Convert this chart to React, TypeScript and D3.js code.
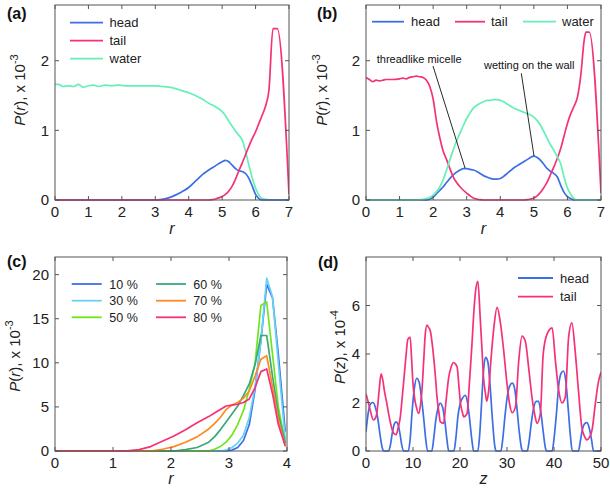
import React from "react";
import * as d3 from "d3";

// ---------- Panel (a) ----------
const rWaterA = [0, 0.1, 0.25, 0.4, 0.55, 0.7, 0.85, 1.0, 1.15, 1.3, 1.5, 1.7, 1.9, 2.1, 2.4, 2.7, 3.0, 3.2, 3.4, 3.6, 3.8, 4.0, 4.2, 4.4, 4.6, 4.8, 5.0, 5.1, 5.2, 5.3, 5.4, 5.5, 5.6, 5.7, 5.8, 5.9, 6.0, 6.1, 6.2, 6.3, 6.5, 7.0];
const waterA = [1.66, 1.66, 1.63, 1.64, 1.63, 1.66, 1.62, 1.64, 1.65, 1.63, 1.65, 1.64, 1.65, 1.64, 1.64, 1.64, 1.64, 1.63, 1.62, 1.60, 1.57, 1.54, 1.50, 1.45, 1.39, 1.34, 1.27, 1.21, 1.13, 1.06, 0.99, 0.93, 0.86, 0.70, 0.50, 0.32, 0.17, 0.07, 0.02, 0.01, 0, 0];
const rHeadA = [0, 3.0, 3.2, 3.4, 3.6, 3.8, 4.0, 4.2, 4.4, 4.6, 4.8, 5.0, 5.1, 5.2, 5.3, 5.4, 5.5, 5.6, 5.7, 5.8, 5.9, 6.0, 6.1, 6.2, 7.0];
const headA = [0, 0, 0.01, 0.03, 0.07, 0.12, 0.18, 0.27, 0.36, 0.43, 0.49, 0.55, 0.57, 0.55, 0.50, 0.45, 0.42, 0.41, 0.38, 0.31, 0.20, 0.08, 0.02, 0, 0];
const rTailA = [0, 4.6, 4.7, 4.8, 4.9, 5.0, 5.1, 5.2, 5.3, 5.4, 5.5, 5.6, 5.7, 5.8, 5.9, 6.0, 6.1, 6.2, 6.3, 6.4, 6.52, 6.65, 7.0];
const tailA = [0, 0, 0.005, 0.015, 0.03, 0.05, 0.08, 0.13, 0.2, 0.3, 0.42, 0.53, 0.65, 0.77, 0.88, 0.98, 1.1, 1.22, 1.35, 1.58, 2.46, 2.46, 0.08];

// ---------- Panel (b) ----------
const rTailB = [0, 0.1, 0.2, 0.3, 0.4, 0.5, 0.6, 0.8, 1.0, 1.1, 1.2, 1.3, 1.4, 1.5, 1.6, 1.7, 1.8, 1.9, 2.0, 2.1, 2.2, 2.3, 2.4, 2.5, 2.6, 2.7, 2.8, 2.9, 3.0, 3.1, 3.2, 3.3, 3.4, 3.5, 4.7, 4.8, 4.9, 5.0, 5.1, 5.2, 5.3, 5.4, 5.5, 5.6, 5.7, 5.8, 5.9, 6.0, 6.1, 6.2, 6.3, 6.4, 6.5, 6.55, 6.65, 7.0];
const tailB = [1.76, 1.73, 1.70, 1.72, 1.71, 1.72, 1.73, 1.73, 1.74, 1.75, 1.74, 1.76, 1.77, 1.78, 1.77, 1.76, 1.72, 1.63, 1.45, 1.13, 0.89, 0.70, 0.58, 0.45, 0.33, 0.25, 0.19, 0.14, 0.10, 0.06, 0.03, 0.015, 0.005, 0, 0, 0.005, 0.015, 0.03, 0.06, 0.11, 0.18, 0.26, 0.37, 0.48, 0.6, 0.74, 0.92, 1.1, 1.24, 1.35, 1.48, 1.8, 2.3, 2.41, 2.41, 0.1];
const rHeadB = [0, 1.8, 1.9, 2.0, 2.1, 2.2, 2.3, 2.4, 2.5, 2.6, 2.7, 2.8, 2.9, 3.0, 3.1, 3.2, 3.3, 3.4, 3.5, 3.6, 3.7, 3.8, 3.9, 4.0, 4.1, 4.2, 4.3, 4.4, 4.5, 4.6, 4.7, 4.8, 4.9, 5.0, 5.1, 5.2, 5.3, 5.4, 5.5, 5.6, 5.7, 5.8, 5.9, 6.0, 6.1, 6.2, 7.0];
const headB = [0, 0, 0.01, 0.04, 0.09, 0.14, 0.19, 0.25, 0.31, 0.36, 0.40, 0.43, 0.45, 0.45, 0.44, 0.43, 0.41, 0.38, 0.35, 0.33, 0.31, 0.30, 0.30, 0.31, 0.34, 0.38, 0.42, 0.46, 0.49, 0.52, 0.55, 0.58, 0.61, 0.63, 0.61, 0.57, 0.51, 0.45, 0.41, 0.38, 0.33, 0.21, 0.11, 0.05, 0.02, 0, 0];
const rWaterB = [0, 1.5, 1.6, 1.7, 1.8, 1.9, 2.0, 2.1, 2.2, 2.3, 2.4, 2.5, 2.6, 2.7, 2.8, 2.9, 3.0, 3.1, 3.2, 3.3, 3.4, 3.5, 3.6, 3.7, 3.8, 3.9, 4.0, 4.1, 4.2, 4.3, 4.4, 4.5, 4.6, 4.7, 4.8, 4.9, 5.0, 5.1, 5.2, 5.3, 5.4, 5.5, 5.6, 5.7, 5.8, 5.9, 6.0, 6.1, 6.2, 6.3, 7.0];
const waterB = [0, 0, 0.005, 0.01, 0.02, 0.04, 0.07, 0.12, 0.19, 0.29, 0.43, 0.58, 0.72, 0.85, 0.96, 1.07, 1.17, 1.25, 1.32, 1.36, 1.39, 1.41, 1.43, 1.43, 1.44, 1.44, 1.43, 1.41, 1.38, 1.35, 1.32, 1.30, 1.28, 1.26, 1.24, 1.22, 1.19, 1.14, 1.07, 0.98, 0.88, 0.79, 0.71, 0.62, 0.52, 0.33, 0.17, 0.08, 0.02, 0, 0];

// ---------- Panel (c) ----------
const rC = [0, 1.05, 1.25, 1.45, 1.65, 1.85, 2.05, 2.25, 2.45, 2.65, 2.75, 2.85, 2.95, 3.05, 3.15, 3.25, 3.35, 3.45, 3.55, 3.65, 3.75, 3.85, 3.97];
const c10 = [0, 0, 0, 0, 0, 0, 0, 0, 0, 0, 0, 0, 0, 0.1, 0.4, 1.2, 3.0, 7.0, 12.5, 18.9, 17.4, 11, 2.2];
const c30 = [0, 0, 0, 0, 0, 0, 0, 0, 0, 0, 0, 0, 0.1, 0.4, 0.9, 1.8, 3.8, 7.3, 12.5, 19.6, 17.5, 10, 1.3];
const c50 = [0, 0, 0, 0, 0, 0, 0, 0, 0, 0, 0.2, 0.5, 1.0, 1.8, 3.0, 4.6, 7.0, 10.0, 16.5, 16.9, 11, 5, 0.9];
const c60 = [0, 0, 0, 0, 0, 0, 0, 0.15, 0.4, 1.0, 1.6, 2.4, 3.3, 4.2, 5.1, 6.3, 7.6, 9.8, 13.1, 13.1, 8.5, 4.2, 0.9];
const c70 = [0, 0, 0, 0, 0, 0.2, 0.5, 1.0, 1.6, 2.5, 3.1, 3.8, 4.7, 5.2, 5.5, 6.0, 6.8, 8.5, 10.4, 10.8, 7.3, 3.6, 0.5];
const c80 = [0, 0, 0.02, 0.15, 0.5, 1.1, 1.7, 2.4, 3.2, 3.9, 4.3, 4.7, 5.1, 5.2, 5.3, 5.5, 5.9, 7.2, 9.0, 9.3, 6.5, 3.0, 0.6];
const labelsC = ["10 %", "30 %", "50 %", "60 %", "70 %", "80 %"];

// ---------- Panel (d) ----------
const zHeadD = [0, 0.5, 1.0, 1.5, 2.0, 2.5, 3.0, 3.5, 3.8, 4.8, 5.2, 5.6, 6.0, 6.4, 6.8, 7.2, 7.6, 8.0, 9.0, 9.4, 9.8, 10.3, 10.8, 11.3, 11.8, 12.3, 12.7, 13.1, 14.0, 14.4, 14.8, 15.3, 15.8, 16.3, 16.8, 17.2, 17.6, 18.7, 19.1, 19.6, 20.1, 20.6, 21.1, 21.5, 22.0, 22.5, 22.9, 23.8, 24.2, 24.6, 25.0, 25.4, 25.9, 26.4, 26.9, 27.4, 27.7, 28.7, 29.1, 29.6, 30.1, 30.6, 31.1, 31.6, 32.1, 32.6, 33.1, 33.3, 34.3, 34.7, 35.2, 35.7, 36.2, 36.7, 37.2, 37.7, 38.2, 38.4, 39.6, 40.0, 40.5, 41.0, 41.5, 42.0, 42.5, 43.0, 43.5, 43.9, 45.2, 45.6, 46.0, 46.5, 47.0, 47.5, 48.0, 48.4, 49.9, 50];
const headD = [0.8, 1.6, 1.95, 2.0, 1.8, 1.35, 0.65, 0.1, 0, 0, 0.25, 0.75, 1.1, 1.2, 1.1, 0.75, 0.25, 0, 0, 0.5, 1.6, 2.6, 3.0, 2.85, 2.2, 1.3, 0.5, 0, 0, 0.5, 1.2, 1.75, 1.97, 1.8, 1.2, 0.5, 0, 0, 0.5, 1.5, 2.0, 2.2, 2.3, 2.1, 1.4, 0.5, 0, 0, 0.7, 2.0, 3.3, 3.86, 3.7, 2.7, 1.3, 0.2, 0, 0, 0.5, 1.5, 2.3, 2.7, 2.8, 2.6, 1.8, 0.8, 0.1, 0, 0, 0.4, 1.2, 1.8, 2.05, 2.05, 1.6, 0.8, 0.1, 0, 0, 0.5, 1.5, 2.7, 3.2, 3.3, 2.9, 1.8, 0.6, 0, 0, 0.4, 0.85, 1.12, 1.17, 0.95, 0.45, 0, 0, 0.05];
const zTailD = [0, 0.5, 0.9, 1.6, 2.0, 2.3, 2.8, 3.2, 3.6, 3.9, 4.4, 4.8, 5.4, 5.9, 6.4, 6.9, 7.3, 7.7, 8.1, 8.5, 8.9, 9.4, 9.7, 10.0, 10.4, 10.7, 11.2, 11.6, 11.9, 12.3, 12.6, 12.97, 13.3, 13.7, 14.1, 14.4, 14.8, 15.1, 15.5, 15.8, 16.5, 17.0, 17.6, 18.1, 18.6, 19.0, 19.4, 19.8, 20.1, 20.5, 20.8, 21.5, 22.0, 22.5, 22.9, 23.3, 23.8, 24.3, 24.7, 25.0, 25.4, 25.7, 26.1, 26.6, 27.2, 27.9, 28.6, 29.3, 30.0, 30.5, 31.1, 31.8, 32.5, 33.2, 33.9, 34.6, 35.3, 35.9, 36.4, 37.1, 37.7, 38.5, 39.6, 40.3, 41.0, 41.7, 42.4, 43.1, 43.8, 44.5, 45.2, 45.9, 46.5, 47.0, 47.5, 48.1, 48.8, 49.4, 50];
const tailD = [2.36, 2.0, 1.68, 1.28, 1.35, 1.55, 2.5, 3.18, 2.9, 2.5, 2.0, 1.55, 1.0, 0.73, 0.67, 1.0, 1.41, 2.2, 3.04, 3.9, 4.6, 4.7, 3.8, 2.77, 2.1, 1.82, 1.55, 1.9, 2.5, 3.8, 4.8, 5.19, 5.1, 4.94, 4.4, 3.86, 3.0, 2.23, 1.6, 1.21, 1.14, 2.0, 3.04, 3.45, 3.65, 3.6, 3.45, 2.6, 1.96, 1.6, 1.41, 1.55, 2.8, 4.26, 5.6, 6.57, 7.0, 5.49, 4.1, 3.04, 2.4, 2.05, 2.5, 3.8, 5.08, 5.92, 5.28, 4.13, 2.77, 2.0, 1.58, 1.82, 3.72, 4.74, 4.53, 3.45, 2.23, 1.5, 1.14, 1.55, 4.0, 4.81, 5.08, 3.72, 2.5, 1.98, 2.23, 4.67, 5.28, 4.13, 2.5, 1.0, 0.6, 0.46, 0.55, 0.87, 1.96, 2.8, 3.25];

// ---------- ticks ----------
const ticksR7 = [0, 1, 2, 3, 4, 5, 6, 7];
const ticksAB_Y = [0, 1, 2];
const ticksR4 = [0, 1, 2, 3, 4];
const ticksC_Y = [0, 5, 10, 15, 20];
const ticksZ = [0, 10, 20, 30, 40, 50];
const ticksD_Y = [0, 2, 4, 6];

const BLUE = "#3c6ee6";
const PINK = "#f5317a";
const MINT = "#66f0b6";
const colorsC = ["#3c6ee6", "#66d2f6", "#6ee61e", "#3aa97a", "#ff8a1e", "#f5317a"];

const FONT = "'Liberation Sans', Arial, Helvetica, sans-serif";

type S = { x: number[]; y: number[]; color: string };

function zip(xs: number[], ys: number[]) {
  const n = Math.min(xs.length, ys.length);
  const out: [number, number][] = [];
  for (let i = 0; i < n; i++) out.push([xs[i], ys[i]]);
  return out;
}

function Panel(props: {
  left: number; right: number; top: number; bottom: number;
  xDomain: [number, number]; yDomain: [number, number];
  xTicks: number[]; yTicks: number[];
  series: S[]; curve: any;
  label: string; labelX: number; labelY: number;
  xLabel: string; xLabelY: number;
  yVar: string; yExp: string; yLabelX: number; yLabelY: number;
  children?: any;
}) {
  const p = props;
  const x = d3.scaleLinear().domain(p.xDomain).range([p.left, p.right]);
  const y = d3.scaleLinear().domain(p.yDomain).range([p.bottom, p.top]);
  const line = d3.line<[number, number]>().x(d => x(d[0])).y(d => y(d[1])).curve(p.curve);
  const tl = 4;
  const clipId = "clip" + p.label.replace(/[()]/g, "");
  return (
    <g>
      <defs>
        <clipPath id={clipId}>
          <rect x={p.left} y={p.top - 2} width={p.right - p.left} height={p.bottom - p.top + 4} />
        </clipPath>
      </defs>
      <g clipPath={`url(#${clipId})`}>
        {p.series.map((s, i) => (
          <path key={i} d={line(zip(s.x, s.y)) || ""} fill="none" stroke={s.color} strokeWidth={1.7} strokeLinejoin="round" />
        ))}
      </g>
      <rect x={p.left} y={p.top} width={p.right - p.left} height={p.bottom - p.top} fill="none" stroke="#555" strokeWidth={1} />
      {p.xTicks.map(t => (
        <g key={"xt" + t}>
          <line x1={x(t)} x2={x(t)} y1={p.bottom} y2={p.bottom - tl} stroke="#555" />
          <line x1={x(t)} x2={x(t)} y1={p.top} y2={p.top + tl} stroke="#555" />
          <text x={x(t)} y={p.bottom + 17} textAnchor="middle" fontSize={15} fill="#222">{t}</text>
        </g>
      ))}
      {p.yTicks.map(t => (
        <g key={"yt" + t}>
          <line x1={p.left} x2={p.left + tl} y1={y(t)} y2={y(t)} stroke="#555" />
          <line x1={p.right} x2={p.right - tl} y1={y(t)} y2={y(t)} stroke="#555" />
          <text x={p.left - 6} y={y(t)} dy="0.36em" textAnchor="end" fontSize={15} fill="#222">{t}</text>
        </g>
      ))}
      <text x={p.labelX} y={p.labelY} fontSize={16} fontWeight="bold" fill="#111">{p.label}</text>
      <text x={(p.left + p.right) / 2} y={p.xLabelY} textAnchor="middle" fontSize={16} fontStyle="italic" fill="#222">{p.xLabel}</text>
      <text transform={`translate(${p.yLabelX},${p.yLabelY}) rotate(-90)`} textAnchor="middle" fontSize={15} fill="#222">
        <tspan fontStyle="italic">P</tspan>(<tspan fontStyle="italic">{p.yVar}</tspan>), x 10<tspan dy={-7} fontSize={11}>{p.yExp}</tspan>
      </text>
      {p.children}
    </g>
  );
}

function LegendItem({ x1, x2, y, tx, color, text, size }: any) {
  return (
    <g>
      <line x1={x1} x2={x2} y1={y} y2={y} stroke={color} strokeWidth={1.8} />
      <text x={tx} y={y + 4.6} fontSize={size} fill="#222">{text}</text>
    </g>
  );
}

export default function App() {
  const seriesA: S[] = [
    { x: rWaterA, y: waterA, color: MINT },
    { x: rHeadA, y: headA, color: BLUE },
    { x: rTailA, y: tailA, color: PINK },
  ];
  const seriesB: S[] = [
    { x: rHeadB, y: headB, color: BLUE },
    { x: rTailB, y: tailB, color: PINK },
    { x: rWaterB, y: waterB, color: MINT },
  ];
  const dataC = [c10, c30, c50, c60, c70, c80];
  const seriesC: S[] = dataC.map((d, i) => ({ x: rC, y: d, color: colorsC[i] }));
  const seriesD: S[] = [
    { x: zHeadD, y: headD, color: BLUE },
    { x: zTailD, y: tailD, color: PINK },
  ];
  return (
    <svg width={610} height={488} style={{ position: "absolute", left: 0, top: 0, background: "#fff" }} fontFamily={FONT}>
      <rect x={0} y={0} width={610} height={488} fill="#fff" />
      <Panel left={55} right={289} top={5} bottom={200} xDomain={[0, 7]} yDomain={[0, 2.8]}
        xTicks={ticksR7} yTicks={ticksAB_Y} series={seriesA} curve={d3.curveMonotoneX}
        label="(a)" labelX={7} labelY={19} xLabel="r" xLabelY={234}
        yVar="r" yExp="-3" yLabelX={25} yLabelY={90}>
        <LegendItem x1={70} x2={103} y={22.7} tx={109.5} color={BLUE} text="head" size={13} />
        <LegendItem x1={70} x2={103} y={40.7} tx={109.5} color={PINK} text="tail" size={13} />
        <LegendItem x1={70} x2={103} y={58.7} tx={109.5} color={MINT} text="water" size={13} />
      </Panel>
      <Panel left={366} right={601} top={5} bottom={200} xDomain={[0, 7]} yDomain={[0, 2.8]}
        xTicks={ticksR7} yTicks={ticksAB_Y} series={seriesB} curve={d3.curveMonotoneX}
        label="(b)" labelX={317} labelY={19} xLabel="r" xLabelY={234}
        yVar="r" yExp="-3" yLabelX={327} yLabelY={90}>
        <LegendItem x1={372} x2={404} y={21.7} tx={411} color={BLUE} text="head" size={13} />
        <LegendItem x1={455} x2={485} y={21.7} tx={491} color={PINK} text="tail" size={13} />
        <LegendItem x1={523} x2={556} y={21.7} tx={562} color={MINT} text="water" size={13} />
        <text x={461.7} y={63} textAnchor="end" fontSize={11} fill="#111">threadlike micelle</text>
        <line x1={433} x2={465} y1={66} y2={168} stroke="#111" strokeWidth={0.9} />
        <text x={484} y={69.3} fontSize={11} fill="#111">wetting on the wall</text>
        <line x1={521.3} x2={534} y1={73.3} y2={156} stroke="#111" strokeWidth={0.9} />
      </Panel>
      <Panel left={55} right={287} top={257} bottom={451} xDomain={[0, 4]} yDomain={[0, 22]}
        xTicks={ticksR4} yTicks={ticksC_Y} series={seriesC} curve={d3.curveLinear}
        label="(c)" labelX={7} labelY={267} xLabel="r" xLabelY={484}
        yVar="r" yExp="-3" yLabelX={20} yLabelY={356}>
        {labelsC.map((t, i) => {
          const col = i < 3 ? 0 : 1;
          const row = i % 3;
          const y = [284, 300.7, 317.3][row];
          return (
            <LegendItem key={t} x1={col ? 156 : 71.7} x2={col ? 186 : 101.7} y={y}
              tx={col ? 193.3 : 109.3} color={colorsC[i]} text={t} size={12.5} />
          );
        })}
      </Panel>
      <Panel left={366} right={601} top={257} bottom={451} xDomain={[0, 50]} yDomain={[0, 8]}
        xTicks={ticksZ} yTicks={ticksD_Y} series={seriesD} curve={d3.curveMonotoneX}
        label="(d)" labelX={318} labelY={268} xLabel="z" xLabelY={484}
        yVar="z" yExp="-4" yLabelX={345} yLabelY={347}>
        <LegendItem x1={518} x2={553} y={278} tx={560} color={BLUE} text="head" size={13} />
        <LegendItem x1={518} x2={553} y={296.7} tx={560} color={PINK} text="tail" size={13} />
      </Panel>
    </svg>
  );
}
